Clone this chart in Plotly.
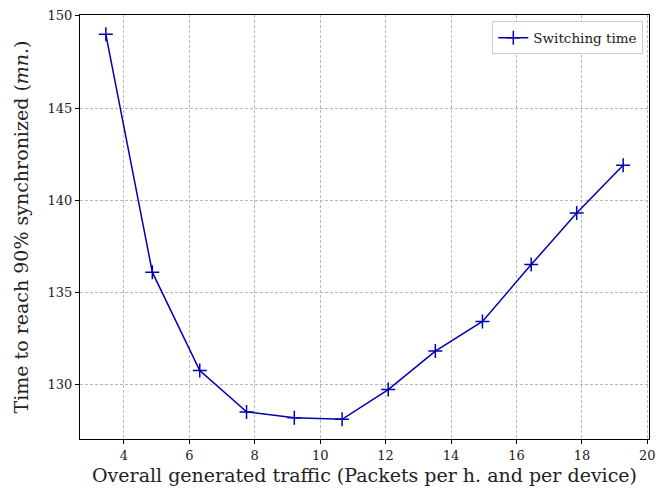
import plotly.graph_objects as go

traffic = [3.45, 4.87, 6.32, 7.75, 9.21, 10.67, 12.08, 13.52, 14.96, 16.45, 17.84, 19.26]
switch_time = [149.0, 136.1, 130.76, 128.52, 128.2, 128.12, 129.73, 131.82, 133.43, 136.51, 139.31, 141.9]
x_ticks = [4, 6, 8, 10, 12, 14, 16, 18, 20]
y_ticks = [130, 135, 140, 145, 150]

FONT = "DejaVu Serif"
BLUE = "#0000b0"

fig = go.Figure()
fig.add_trace(go.Scatter(
    x=traffic, y=switch_time, mode="lines+markers", name="Switching time",
    line=dict(color=BLUE, width=1.5),
    marker=dict(symbol="cross-thin-open", size=10, line=dict(color=BLUE, width=1.5)),
))

axis_common = dict(
    showline=True, linecolor="black", linewidth=1, mirror=True,
    ticks="outside", ticklen=4, tickcolor="black", tickwidth=1,
    showgrid=True, gridcolor="#b8b8b8", griddash="3px,2px", gridwidth=0.8,
    zeroline=False, automargin=False,
    tickfont=dict(family=FONT, size=13, color="#222"),
)

fig.update_layout(
    width=656, height=492,
    margin=dict(l=80, r=7, t=15, b=53),
    plot_bgcolor="white", paper_bgcolor="white",
    font=dict(family=FONT, color="#222"),
    xaxis=dict(range=[2.66, 20.05], tickvals=x_ticks,
               title=dict(text="Overall generated traffic (Packets per h. and per device)",
                          font=dict(family=FONT, size=19), standoff=7),
               **axis_common),
    yaxis=dict(range=[127.05, 150.05], tickvals=y_ticks,
               title=dict(text="Time to reach 90% synchronized (<i>mn.</i>)",
                          font=dict(family=FONT, size=19), standoff=13),
               **axis_common),
    legend=dict(x=0.99, y=0.985, xanchor="right", yanchor="top",
                bgcolor="white", bordercolor="#cccccc", borderwidth=1,
                font=dict(family=FONT, size=13.5)),
    showlegend=True,
)

fig.write_html("out.html", config={"displayModeBar": False},
               post_script="document.body.style.margin='0';document.body.style.overflow='hidden';")
